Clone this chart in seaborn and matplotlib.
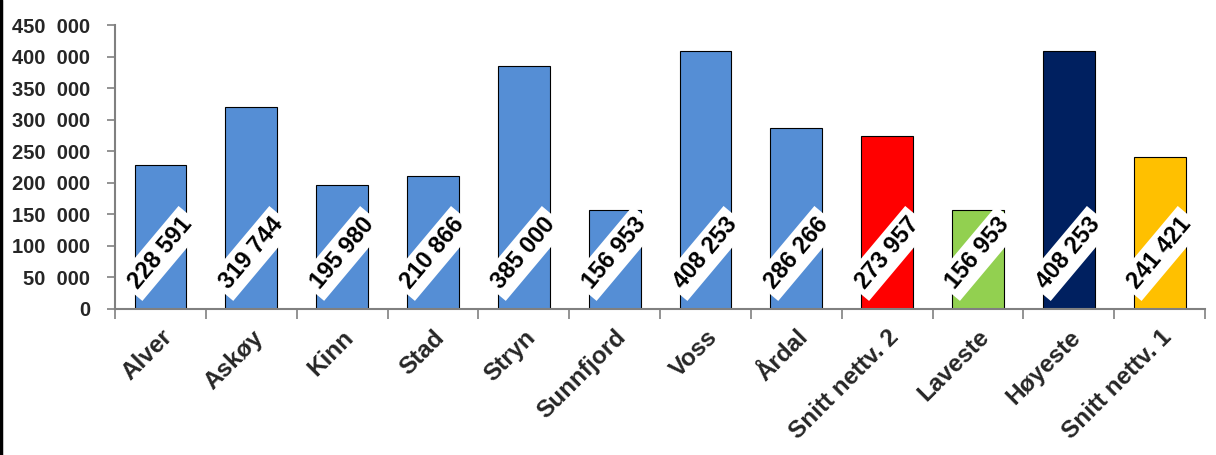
#!/usr/bin/env python3
"""Bar chart: cost per municipality with averages, lowest and highest."""

import pandas as pd
import matplotlib
matplotlib.use('Agg')
import matplotlib.pyplot as plt
import seaborn as sns
from matplotlib.ticker import FuncFormatter, FixedLocator
from matplotlib.lines import Line2D

# data
categories = ['Alver', 'Askøy', 'Kinn', 'Stad', 'Stryn', 'Sunnfjord', 'Voss',
              'Årdal', 'Snitt nettv. 2', 'Laveste', 'Høyeste', 'Snitt nettv. 1']
values = [228591, 319744, 195980, 210866, 385000, 156953, 408253,
          286266, 273957, 156953, 408253, 241421]
bar_colors = ['#558ED5'] * 8 + ['#FF0000', '#92D050', '#002060', '#FFC000']
y_ticks = list(range(0, 450001, 50000))

df = pd.DataFrame({'kategori': categories, 'verdi': values})

sns.set_theme(style='white')
plt.rcParams['font.family'] = ['Liberation Sans', 'DejaVu Sans']
plt.rcParams['font.weight'] = 'bold'

fig = plt.figure(figsize=(12.16, 4.55), dpi=100)
ax = fig.add_axes([0.0946, 0.3209, 0.8964, 0.6241])

sns.barplot(data=df, x='kategori', y='verdi', hue='kategori', palette=bar_colors,
            legend=False, width=0.57, edgecolor='black', linewidth=0.8,
            saturation=1, ax=ax)

ax.set_xlim(-0.5, len(categories) - 0.5)
ax.set_ylim(0, 450000)
ax.set_xlabel('')
ax.set_ylabel('')

# y axis
ax.yaxis.set_major_locator(FixedLocator(y_ticks))
ax.yaxis.set_major_formatter(FuncFormatter(
    lambda v, p: '0' if v == 0 else f'{int(v):,}'.replace(',', '  ')))
ax.tick_params(axis='y', labelsize=14.5, length=6, width=1.2, color='#808080',
               left=True, direction='out', pad=12)

# x axis: labels at centres, tick marks between categories
ax.set_xticks(range(len(categories)))
ax.set_xticklabels(categories, rotation=45, ha='right', rotation_mode='anchor',
                   fontsize=17.5, fontweight='bold')
ax.tick_params(axis='x', which='major', length=0, pad=12)
ax.set_xticks([i - 0.5 for i in range(len(categories) + 1)], minor=True)
ax.tick_params(axis='x', which='minor', length=7, width=1.2, color='#808080',
               bottom=True, direction='out')

for side in ['top', 'right']:
    ax.spines[side].set_visible(False)
for side in ['left', 'bottom']:
    ax.spines[side].set_color('#808080')
    ax.spines[side].set_linewidth(1.5)

# value labels in rotated white boxes
for i, v in enumerate(values):
    ax.text(i, 88000, f'{v:,}'.replace(',', ' '), rotation=50,
            ha='center', va='center', rotation_mode='anchor',
            fontsize=17, fontweight='bold', color='black', zorder=5,
            bbox=dict(boxstyle='square,pad=0.22', facecolor='white',
                      edgecolor='none'))

# left border of the chart area
fig.add_artist(Line2D([0.001, 0.001], [0, 1], color='black', linewidth=2.5,
                      transform=fig.transFigure))

fig.savefig('out.png', dpi=100)
plt.close(fig)
